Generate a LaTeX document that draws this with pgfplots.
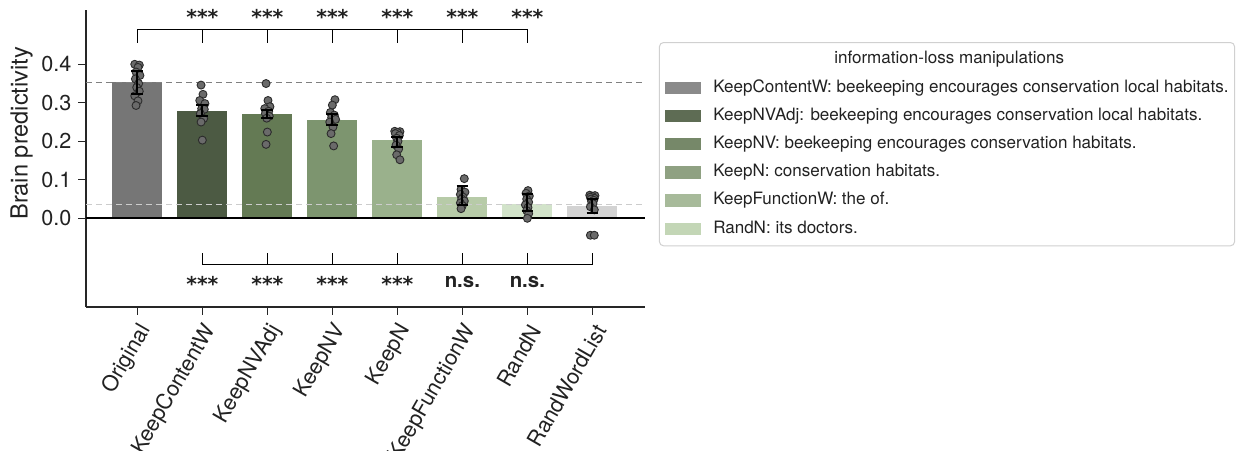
\documentclass[border=0pt]{standalone}
\usepackage{pgfplots}
\pgfplotsset{compat=1.18}
\usepackage{fontspec}
\setmainfont{TeX Gyre Heros}
\newfontfamily\starfont{DejaVu Sans}
\definecolor{cOrig}{HTML}{767676}
\definecolor{cKCW}{HTML}{4C5A43}
\definecolor{cKNVA}{HTML}{647A54}
\definecolor{cKNV}{HTML}{7D956F}
\definecolor{cKN}{HTML}{9AB18C}
\definecolor{cKFW}{HTML}{B7CBA8}
\definecolor{cRN}{HTML}{D2E3CA}
\definecolor{cRWL}{HTML}{D3D3D3}
\definecolor{lg1}{HTML}{8A8A8A}
\definecolor{lg2}{HTML}{5E6C54}
\definecolor{lg3}{HTML}{768869}
\definecolor{lg4}{HTML}{8FA182}
\definecolor{lg5}{HTML}{A7BA9A}
\definecolor{lg6}{HTML}{C3D6B6}
\definecolor{dotfill}{HTML}{6A6A6A}
\definecolor{dotdraw}{HTML}{2B2B2B}
\definecolor{textc}{HTML}{222222}
\definecolor{axisc}{HTML}{262626}
\definecolor{legc}{HTML}{D0D0D0}
\pgfplotsset{swatch/.style={legend image code/.code={\fill[##1, sharp corners] (0pt,-3.1pt) rectangle (18pt,3.1pt);}}}
\begin{document}
\begin{tikzpicture}
\useasboundingbox (-43pt,-71.5pt) rectangle (575.5pt,153.5pt);
\begin{axis}[
  at={(0,0)}, anchor=south west,
  scale only axis, width=279.5pt, height=148.5pt,
  xmin=-0.79, xmax=7.81, ymin=-0.2304, ymax=0.541,
  axis x line*=bottom, axis y line*=left,
  axis line style={color=axisc, line width=0.65pt, -},
  xtick={0,1,2,3,4,5,6,7},
  xticklabels={Original,KeepContentW,KeepNVAdj,KeepNV,KeepN,KeepFunctionW,RandN,RandWordList},
  ytick={0,0.1,0.2,0.3,0.4},
  scaled y ticks=false,
  /pgf/number format/assume math mode=true,
  yticklabel style={/pgf/number format/fixed, /pgf/number format/fixed zerofill, /pgf/number format/precision=1},
  tick align=outside, major tick length=3.8pt,
  tick style={color=axisc, line width=0.65pt},
  tick label style={font=\fontsize{10.8}{13}\selectfont, color=textc},
  xticklabel style={xshift=6pt, yshift=-3pt, rotate=60, anchor=east},
  ylabel={Brain predictivity},
  ylabel style={font=\fontsize{11.8}{14}\selectfont, color=textc, at={(axis description cs:-0.1152,0.585)}, anchor=center},
  clip=false,
  clip marker paths=true,
  unbounded coords=jump,
  legend cell align=left,
  legend style={at={(rel axis cs:1.025,0.892)}, anchor=north west, draw=legc, line width=0.5pt, rounded corners=2pt, fill=white,
    font=\fontsize{8.52}{10.5}\selectfont, text=textc, row sep=6.1pt, column sep=5.9pt, inner xsep=3pt, inner ysep=4.5pt,
    nodes={inner sep=0pt, text height=6.2pt, text depth=1.8pt}},
]
% bars
\addplot[ybar, bar width=0.77, bar shift=0pt, fill=cOrig, draw=none, forget plot] coordinates {(0,0.353)};
\addplot[ybar, bar width=0.77, bar shift=0pt, fill=cKCW, draw=none, forget plot] coordinates {(1,0.279)};
\addplot[ybar, bar width=0.77, bar shift=0pt, fill=cKNVA, draw=none, forget plot] coordinates {(2,0.271)};
\addplot[ybar, bar width=0.77, bar shift=0pt, fill=cKNV, draw=none, forget plot] coordinates {(3,0.255)};
\addplot[ybar, bar width=0.77, bar shift=0pt, fill=cKN, draw=none, forget plot] coordinates {(4,0.203)};
\addplot[ybar, bar width=0.77, bar shift=0pt, fill=cKFW, draw=none, forget plot] coordinates {(5,0.0565)};
\addplot[ybar, bar width=0.77, bar shift=0pt, fill=cRN, draw=none, forget plot] coordinates {(6,0.036)};
\addplot[ybar, bar width=0.77, bar shift=0pt, fill=cRWL, draw=none, forget plot] coordinates {(7,0.032)};
% reference lines
\addplot[forget plot, color=black!50, dash pattern=on 3pt off 2pt, line width=0.5pt] coordinates {(-0.79,0.353) (7.81,0.353)};
\addplot[forget plot, color=black!20, dash pattern=on 3pt off 2pt, line width=0.5pt] coordinates {(-0.79,0.0346) (7.81,0.0346)};
\addplot[forget plot, color=black, line width=0.8pt] coordinates {(-0.79,0) (7.81,0)};
% individual points
\addplot[forget plot, only marks, mark=*, mark size=2pt, mark options={fill=dotfill, draw=dotdraw, line width=0.45pt}] table {
x y
-0.04 0.400
0.03 0.398
0.01 0.392
-0.02 0.380
0.04 0.371
-0.03 0.362
0.02 0.350
-0.01 0.340
0.03 0.330
-0.04 0.318
0.01 0.305
-0.02 0.293
0.98 0.346
1.01 0.322
0.96 0.306
1.04 0.298
0.99 0.285
1.03 0.283
0.97 0.272
1.02 0.259
0.98 0.250
1.00 0.203
1.98 0.350
2.01 0.306
2.04 0.290
1.96 0.285
2.02 0.278
1.97 0.272
2.03 0.265
1.99 0.260
2.00 0.224
1.98 0.192
3.04 0.308
3.00 0.294
2.97 0.275
3.03 0.268
2.99 0.262
3.05 0.257
2.96 0.250
3.01 0.237
2.98 0.220
3.02 0.188
3.96 0.226
4.04 0.225
4.00 0.223
3.97 0.220
4.03 0.215
3.99 0.208
4.01 0.200
3.98 0.190
4.02 0.180
3.99 0.165
4.04 0.152
5.03 0.103
4.98 0.075
5.04 0.068
4.97 0.062
5.01 0.055
4.99 0.050
5.03 0.045
4.97 0.040
5.00 0.033
4.98 0.025
6.01 0.072
5.98 0.065
6.03 0.058
5.99 0.050
6.02 0.042
5.97 0.035
6.01 0.028
5.99 0.020
6.02 0.012
6.00 0.000
6.96 0.060
7.04 0.059
7.00 0.057
6.97 0.055
7.03 0.052
6.98 0.050
7.02 0.047
6.99 0.043
7.01 0.038
6.97 0.030
7.03 0.022
6.97 -0.044
7.03 -0.044
};
% error bars (vertical segment and caps for each bar)
\addplot[forget plot, black, line width=1pt, mark=none] table {
x y
0 0.322
0 0.382
nan nan
-0.09 0.322
0.09 0.322
nan nan
-0.09 0.382
0.09 0.382
nan nan
1 0.265
1 0.295
nan nan
0.91 0.265
1.09 0.265
nan nan
0.91 0.295
1.09 0.295
nan nan
2 0.261
2 0.282
nan nan
1.91 0.261
2.09 0.261
nan nan
1.91 0.282
2.09 0.282
nan nan
3 0.242
3 0.272
nan nan
2.91 0.242
3.09 0.242
nan nan
2.91 0.272
3.09 0.272
nan nan
4 0.186
4 0.212
nan nan
3.91 0.186
4.09 0.186
nan nan
3.91 0.212
4.09 0.212
nan nan
5 0.034
5 0.084
nan nan
4.91 0.034
5.09 0.034
nan nan
4.91 0.084
5.09 0.084
nan nan
6 0.019
6 0.062
nan nan
5.91 0.019
6.09 0.019
nan nan
5.91 0.062
6.09 0.062
nan nan
7 0.015
7 0.049
nan nan
6.91 0.015
7.09 0.015
nan nan
6.91 0.049
7.09 0.049
};
% significance brackets
\draw[black, line width=0.75pt] (axis cs:0,0.456) -- (axis cs:0,0.491) -- (axis cs:6,0.491) -- (axis cs:6,0.456);
\pgfplotsinvokeforeach{1,2,3,4,5}{\draw[black, line width=0.75pt] (axis cs:#1,0.491) -- (axis cs:#1,0.456);}
\draw[black, line width=0.75pt] (axis cs:1,-0.091) -- (axis cs:1,-0.120) -- (axis cs:7,-0.120) -- (axis cs:7,-0.091);
\pgfplotsinvokeforeach{2,3,4,5,6}{\draw[black, line width=0.75pt] (axis cs:#1,-0.120) -- (axis cs:#1,-0.091);}
\pgfplotsinvokeforeach{1,2,3,4,5,6}{\node[font=\starfont\bfseries\fontsize{10.2}{12}\selectfont, text=textc, inner sep=0pt] at (axis cs:#1,0.522) {***};}
\pgfplotsinvokeforeach{1,2,3,4}{\node[font=\starfont\bfseries\fontsize{10.2}{12}\selectfont, text=textc, inner sep=0pt] at (axis cs:#1,-0.170) {***};}
\pgfplotsinvokeforeach{5,6}{\node[font=\bfseries\fontsize{10.2}{12}\selectfont, text=textc, inner sep=0pt] at (axis cs:#1,-0.165) {n.s.};}
% legend
\addlegendimage{empty legend}
\addlegendentry{\hspace*{60.5pt}information-loss manipulations}
\addlegendimage{swatch, fill=lg1, draw=none}
\addlegendentry{KeepContentW: beekeeping encourages conservation local habitats.}
\addlegendimage{swatch, fill=lg2, draw=none}
\addlegendentry{KeepNVAdj: beekeeping encourages conservation local habitats.}
\addlegendimage{swatch, fill=lg3, draw=none}
\addlegendentry{KeepNV: beekeeping encourages conservation habitats.}
\addlegendimage{swatch, fill=lg4, draw=none}
\addlegendentry{KeepN: conservation habitats.}
\addlegendimage{swatch, fill=lg5, draw=none}
\addlegendentry{KeepFunctionW: the of.}
\addlegendimage{swatch, fill=lg6, draw=none}
\addlegendentry{RandN: its doctors.}
\end{axis}
\end{tikzpicture}
\end{document}
